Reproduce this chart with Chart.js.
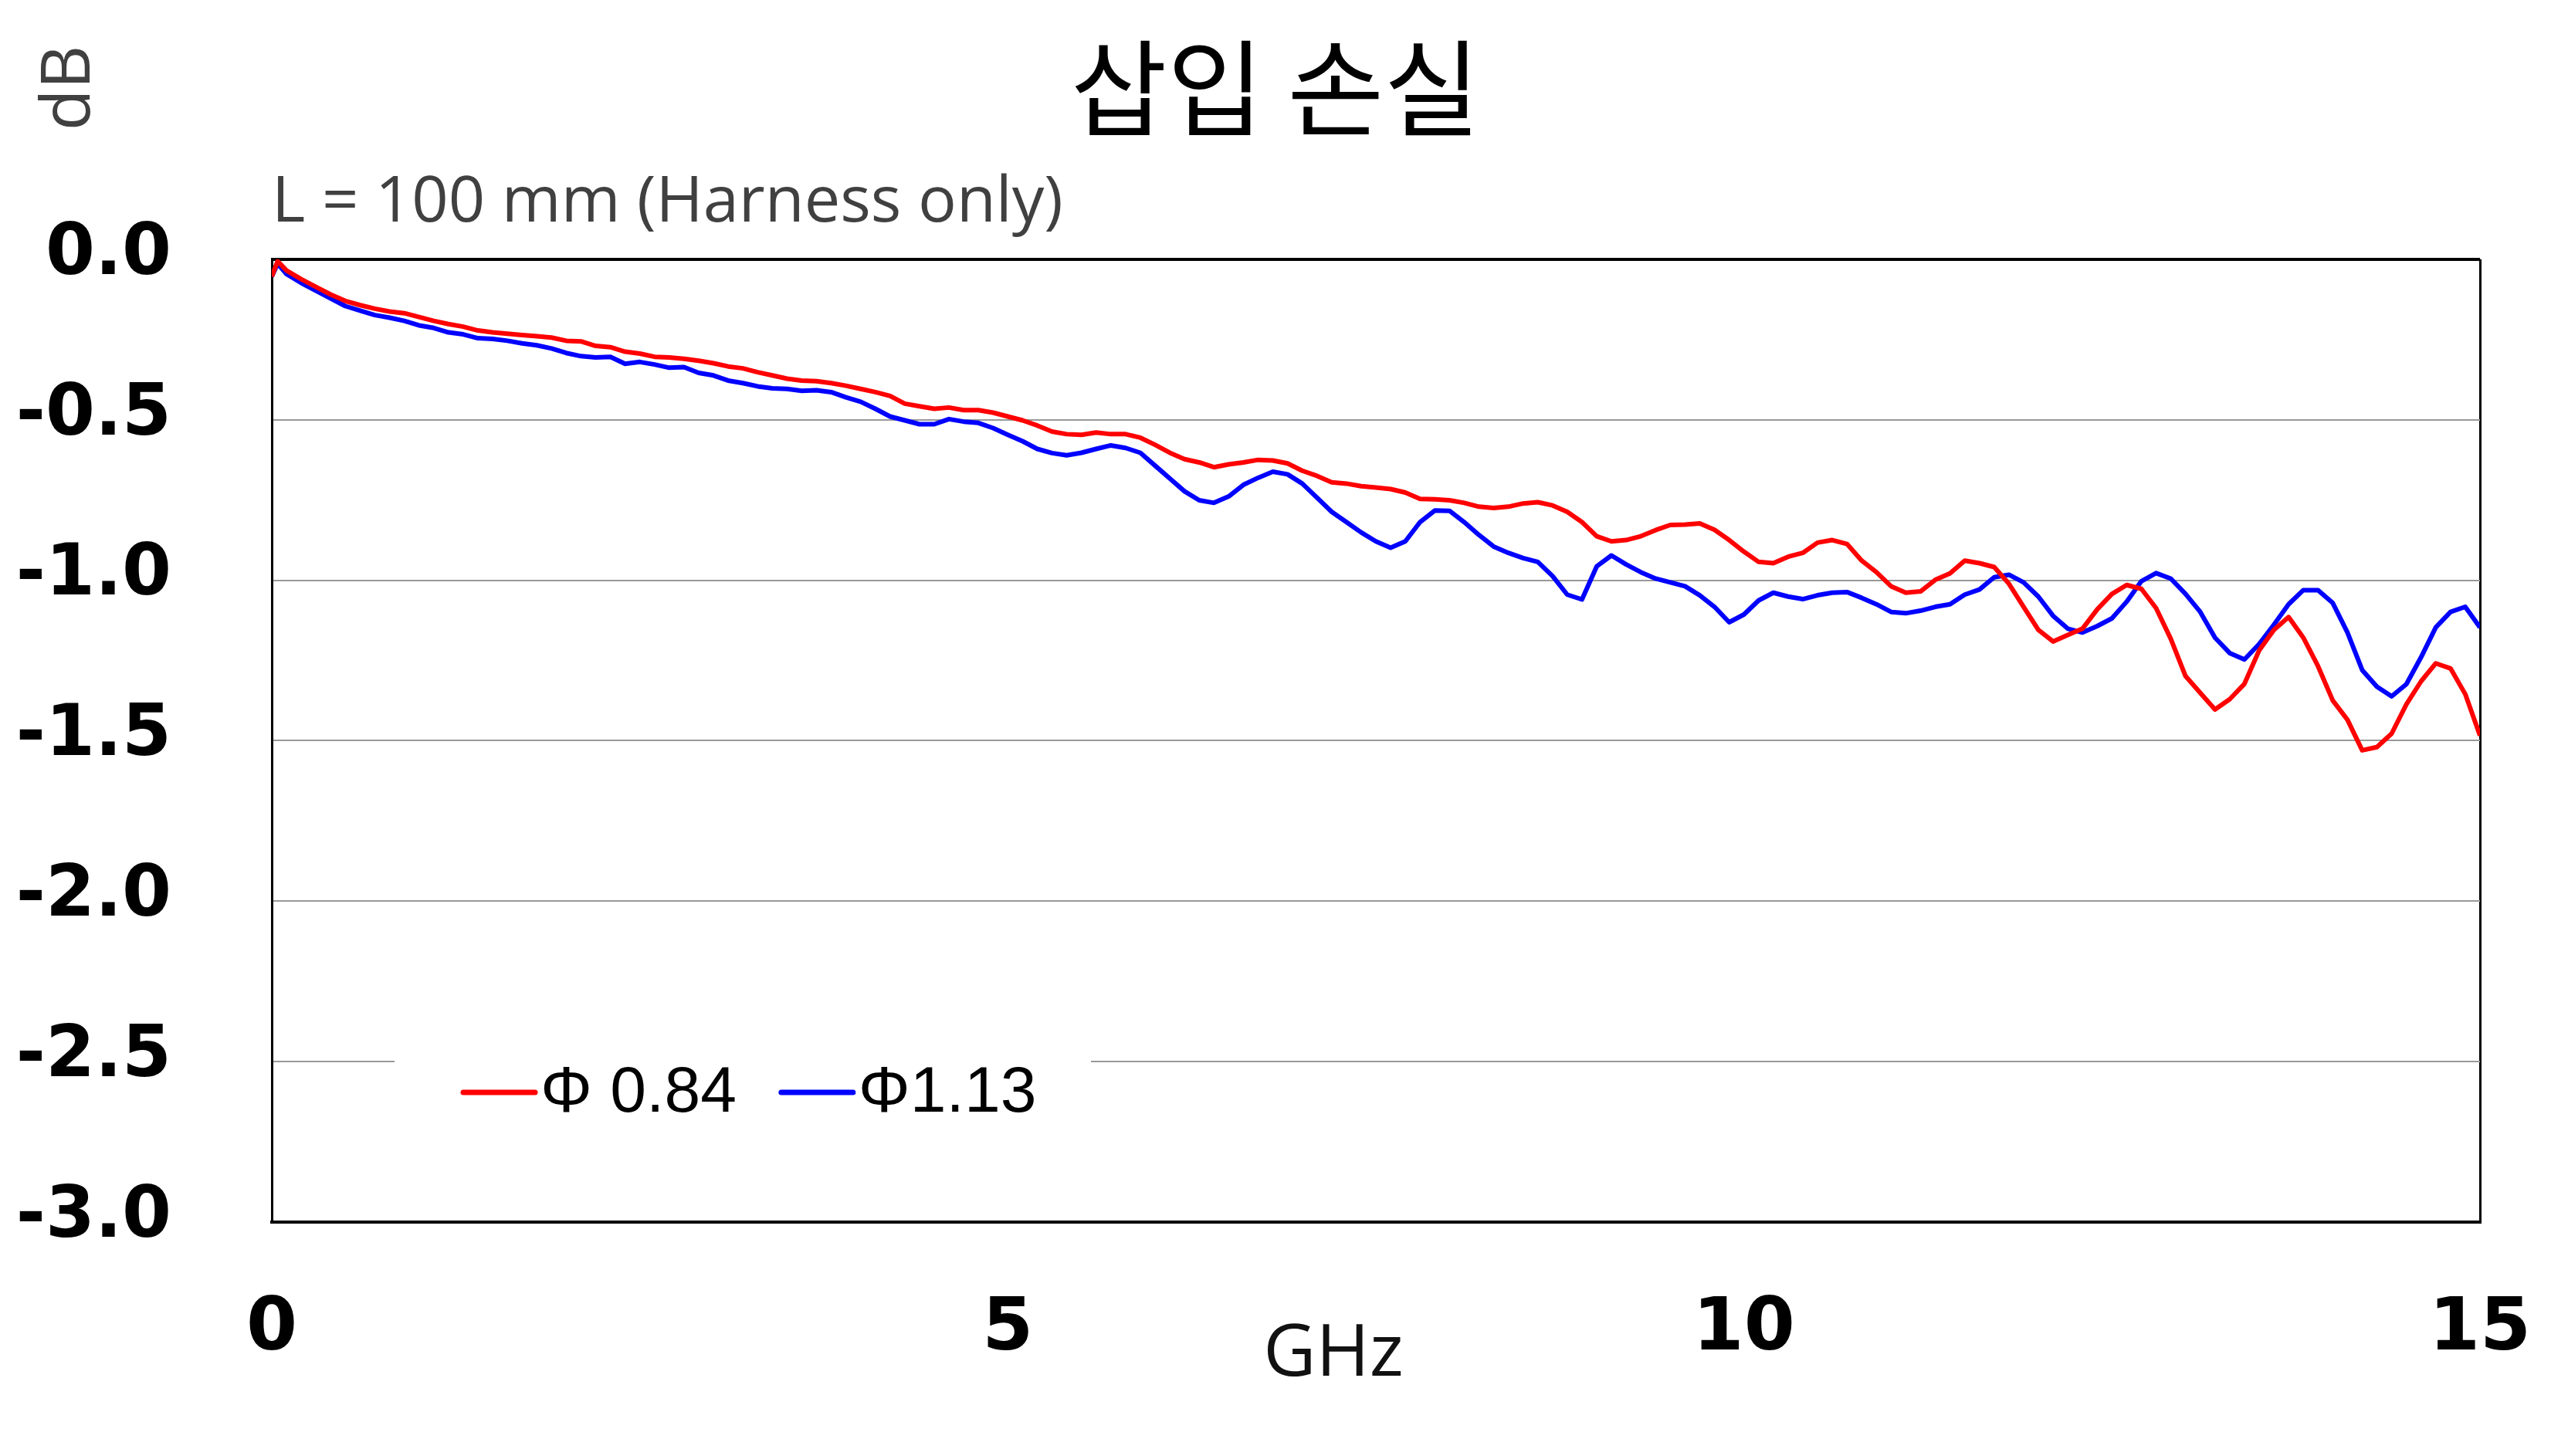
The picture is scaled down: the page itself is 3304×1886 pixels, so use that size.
<!DOCTYPE html>
<html lang="ko">
<head>
<meta charset="utf-8">
<title>삽입 손실</title>
<script src="https://cdn.jsdelivr.net/npm/chart.js@4.4.1/dist/chart.umd.min.js"></script>
<style>
  html, body { margin: 0; padding: 0; background: #fff; }
  #wrap { width: 3304px; height: 1886px; position: relative; }
</style>
</head>
<body>
<div id="wrap"><canvas id="lossChart"></canvas></div>
<script>
// frequency points in GHz
const freqGHz = [0, 0.04,
  0.1, 0.2, 0.3, 0.4, 0.5, 0.6, 0.7, 0.8, 0.9, 1.0,
  1.1, 1.2, 1.3, 1.4, 1.5, 1.6, 1.7, 1.8, 1.9, 2.0,
  2.1, 2.2, 2.3, 2.4, 2.5, 2.6, 2.7, 2.8, 2.9, 3.0,
  3.1, 3.2, 3.3, 3.4, 3.5, 3.6, 3.7, 3.8, 3.9, 4.0,
  4.1, 4.2, 4.3, 4.4, 4.5, 4.6, 4.7, 4.8, 4.9, 5.0,
  5.1, 5.2, 5.3, 5.4, 5.5, 5.6, 5.7, 5.8, 5.9, 6.0,
  6.1, 6.2, 6.3, 6.4, 6.5, 6.6, 6.7, 6.8, 6.9, 7.0,
  7.1, 7.2, 7.3, 7.4, 7.5, 7.6, 7.7, 7.8, 7.9, 8.0,
  8.1, 8.2, 8.3, 8.4, 8.5, 8.6, 8.7, 8.8, 8.9, 9.0,
  9.1, 9.2, 9.3, 9.4, 9.5, 9.6, 9.7, 9.8, 9.9, 10.0,
  10.1, 10.2, 10.3, 10.4, 10.5, 10.6, 10.7, 10.8, 10.9, 11.0,
  11.1, 11.2, 11.3, 11.4, 11.5, 11.6, 11.7, 11.8, 11.9, 12.0,
  12.1, 12.2, 12.3, 12.4, 12.5, 12.6, 12.7, 12.8, 12.9, 13.0,
  13.1, 13.2, 13.3, 13.4, 13.5, 13.6, 13.7, 13.8, 13.9, 14.0,
  14.1, 14.2, 14.3, 14.4, 14.5, 14.6, 14.7, 14.8, 14.9, 15.0];

// insertion loss in dB, Φ0.84 harness
const lossD084 = [-0.054, -0.006,
  -0.035, -0.062, -0.086, -0.110, -0.130, -0.143, -0.154, -0.163, -0.168, -0.180,
  -0.192, -0.202, -0.210, -0.222, -0.228, -0.232, -0.236, -0.240, -0.244, -0.254,
  -0.256, -0.270, -0.274, -0.288, -0.294, -0.304, -0.306, -0.310, -0.316, -0.324,
  -0.334, -0.340, -0.352, -0.362, -0.372, -0.378, -0.380, -0.386, -0.394, -0.404,
  -0.414, -0.426, -0.450, -0.458, -0.466, -0.462, -0.470, -0.470, -0.478, -0.490,
  -0.502, -0.518, -0.537, -0.545, -0.547, -0.540, -0.545, -0.545, -0.556, -0.578,
  -0.603, -0.623, -0.633, -0.648, -0.639, -0.633, -0.625, -0.627, -0.636, -0.659,
  -0.675, -0.695, -0.699, -0.707, -0.711, -0.716, -0.727, -0.747, -0.748, -0.751,
  -0.759, -0.771, -0.775, -0.771, -0.761, -0.757, -0.767, -0.787, -0.819, -0.863,
  -0.879, -0.875, -0.863, -0.844, -0.828, -0.827, -0.823, -0.843, -0.875, -0.911,
  -0.943, -0.947, -0.927, -0.915, -0.883, -0.875, -0.887, -0.939, -0.975, -1.019,
  -1.039, -1.035, -0.999, -0.979, -0.939, -0.947, -0.959, -1.011, -1.083, -1.155,
  -1.191, -1.171, -1.151, -1.091, -1.043, -1.015, -1.027, -1.087, -1.183, -1.299,
  -1.351, -1.403, -1.371, -1.323, -1.219, -1.155, -1.115, -1.179, -1.268, -1.375,
  -1.435, -1.530, -1.520, -1.478, -1.387, -1.315, -1.259, -1.275, -1.355, -1.484];

// insertion loss in dB, Φ1.13 harness
const lossD113 = [-0.054, -0.014,
  -0.046, -0.074, -0.098, -0.122, -0.146, -0.160, -0.174, -0.182, -0.192, -0.206,
  -0.214, -0.228, -0.234, -0.246, -0.248, -0.254, -0.262, -0.268, -0.278, -0.292,
  -0.302, -0.306, -0.304, -0.326, -0.320, -0.328, -0.338, -0.336, -0.354, -0.362,
  -0.378, -0.386, -0.396, -0.402, -0.404, -0.410, -0.408, -0.414, -0.430, -0.444,
  -0.466, -0.490, -0.502, -0.514, -0.514, -0.498, -0.506, -0.510, -0.526, -0.547,
  -0.567, -0.591, -0.604, -0.611, -0.603, -0.591, -0.580, -0.588, -0.603, -0.643,
  -0.683, -0.723, -0.751, -0.759, -0.739, -0.703, -0.681, -0.662, -0.670, -0.699,
  -0.743, -0.787, -0.819, -0.851, -0.879, -0.899, -0.879, -0.819, -0.783, -0.784,
  -0.819, -0.859, -0.895, -0.915, -0.931, -0.943, -0.987, -1.045, -1.060, -0.957,
  -0.923, -0.951, -0.975, -0.995, -1.007, -1.019, -1.047, -1.083, -1.131, -1.107,
  -1.063, -1.039, -1.051, -1.059, -1.047, -1.039, -1.037, -1.055, -1.075, -1.099,
  -1.103, -1.095, -1.083, -1.075, -1.045, -1.029, -0.991, -0.983, -1.007, -1.051,
  -1.111, -1.151, -1.163, -1.143, -1.119, -1.067, -1.003, -0.978, -0.995, -1.043,
  -1.099, -1.179, -1.227, -1.247, -1.199, -1.139, -1.075, -1.031, -1.031, -1.071,
  -1.163, -1.280, -1.332, -1.362, -1.324, -1.240, -1.147, -1.099, -1.083, -1.147];

const seriesLabels = ['Φ 0.84', 'Φ1.13'];
const xTickValues = [0, 5, 10, 15];
const yTickValues = [-3.0, -2.5, -2.0, -1.5, -1.0, -0.5, 0.0];

// unit labels and the in-plot legend box
const extraText = {
  id: 'extraText',
  afterDraw(chart) {
    const { ctx, chartArea: a } = chart;

    ctx.save();
    ctx.fillStyle = '#404040';
    ctx.font = "88px 'Open Sans', sans-serif";
    ctx.textAlign = 'center';
    ctx.textBaseline = 'alphabetic';
    ctx.translate(116, 114);
    ctx.rotate(-Math.PI / 2);
    ctx.fillText('dB', 0, 0);
    ctx.restore();

    ctx.save();
    ctx.fillStyle = '#111';
    ctx.font = "94px 'Open Sans', sans-serif";
    ctx.textAlign = 'center';
    ctx.textBaseline = 'alphabetic';
    ctx.fillText('GHz', a.left + 1375, a.bottom + 199);
    ctx.restore();

    // legend
    const y = a.bottom - 168;
    ctx.save();
    ctx.fillStyle = '#fff';
    ctx.fillRect(a.left + 159, y - 62, 902, 124);
    ctx.font = "84px 'Liberation Sans', Arial, sans-serif";
    ctx.textBaseline = 'middle';
    ctx.textAlign = 'left';
    let cx = a.left + 248;
    chart.data.datasets.forEach(ds => {
      ctx.strokeStyle = ds.borderColor;
      ctx.lineWidth = 7;
      ctx.lineCap = 'round';
      ctx.beginPath();
      ctx.moveTo(cx, y);
      ctx.lineTo(cx + 93, y);
      ctx.stroke();
      ctx.fillStyle = '#000';
      ctx.fillText(ds.label, cx + 100, y + 2);
      cx += 100 + ctx.measureText(ds.label).width + 58;
    });
    ctx.restore();
  }
};

const ctx = document.getElementById('lossChart').getContext('2d');
new Chart(ctx, {
  type: 'line',
  data: {
    datasets: [{
      label: seriesLabels[0],
      data: freqGHz.map((f, i) => ({ x: f, y: lossD084[i] })),
      borderColor: '#ff0000',
      borderWidth: 6,
      pointRadius: 0,
      tension: 0,
      borderJoinStyle: 'round',
      fill: false
    }, {
      label: seriesLabels[1],
      data: freqGHz.map((f, i) => ({ x: f, y: lossD113[i] })),
      borderColor: '#0000ff',
      borderWidth: 6,
      pointRadius: 0,
      tension: 0,
      borderJoinStyle: 'round',
      fill: false
    }]
  },
  options: {
    responsive: true,
    maintainAspectRatio: false,
    animation: false,
    layout: { padding: 0 },
    plugins: {
      legend: { display: false },
      tooltip: { enabled: false },
      title: {
        display: true,
        text: '삽입 손실',
        color: '#000',
        font: { family: "'Noto Sans CJK KR', sans-serif", size: 136, weight: 'normal' },
        padding: { top: 33, bottom: 0 }
      },
      subtitle: {
        display: true,
        text: 'L = 100 mm (Harness only)',
        align: 'start',
        fullSize: false,
        color: '#404040',
        font: { family: "'Open Sans', sans-serif", size: 83 },
        padding: { top: 17, bottom: 23 }
      }
    },
    scales: {
      x: {
        type: 'linear',
        min: 0,
        max: 15,
        afterBuildTicks: s => { s.ticks = xTickValues.map(v => ({ value: v })); },
        afterFit: s => {
          s.height = 303;
          s.paddingLeft = 0;
          s.paddingRight = 92;
        },
        grid: {
          drawTicks: false,
          color: c => (c.tick && c.tick.value === 15 ? '#000' : 'rgba(0,0,0,0)'),
          lineWidth: 3
        },
        border: { display: true, color: '#000', width: 4 },
        ticks: {
          color: '#000',
          font: { family: "'DejaVu Sans', sans-serif", size: 95, weight: 'bold' },
          padding: 83,
          maxRotation: 0
        }
      },
      y: {
        min: -3,
        max: 0,
        afterBuildTicks: s => { s.ticks = yTickValues.map(v => ({ value: v })); },
        afterFit: s => { s.width = 352; },
        grid: {
          drawTicks: false,
          color: c => {
            if (!c.tick) return '#999';
            if (c.tick.value === 0) return '#000';
            if (c.tick.value === -3) return 'rgba(0,0,0,0)';
            return '#999999';
          },
          lineWidth: c => (c.tick && c.tick.value === 0 ? 4 : 2)
        },
        border: { display: true, color: '#000', width: 3 },
        ticks: {
          color: '#000',
          font: { family: "'DejaVu Sans', sans-serif", size: 92, weight: 'bold' },
          padding: 130,
          labelOffset: -5,
          callback: v => v.toFixed(1)
        }
      }
    }
  },
  plugins: [extraText]
});
</script>
</body>
</html>
